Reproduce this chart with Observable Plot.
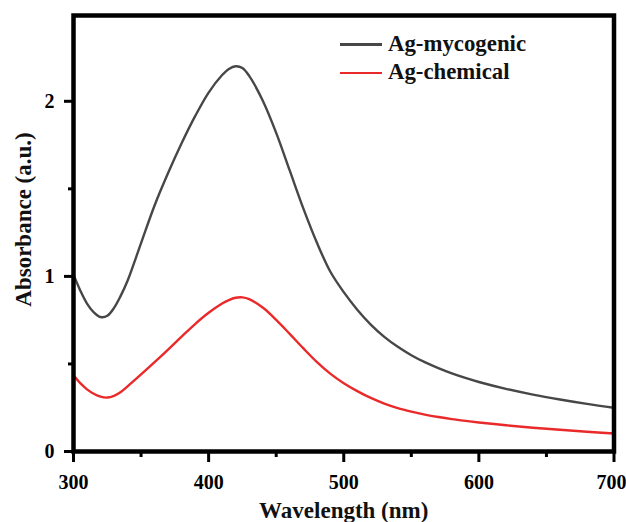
<!DOCTYPE html>
<html>
<head>
<meta charset="utf-8">
<script src="https://cdn.jsdelivr.net/npm/d3@7"></script>
<script src="https://cdn.jsdelivr.net/npm/@observablehq/plot@0.6"></script>
<style>
  html, body { margin: 0; padding: 0; background: #fff; }
  #wrap { position: relative; width: 626px; height: 522px; font-family: "Liberation Serif", "Times New Roman", serif; font-weight: bold; }
  .lg-line { position: absolute; height: 2.5px; width: 42px; left: 340px; }
  .lg-text { position: absolute; left: 388px; font-size: 22.8px; line-height: 1; color: #111; white-space: nowrap; }
</style>
</head>
<body>
<div id="wrap"></div>
<script>
// Wavelength samples (nm)
const wavelengths = [300,305,310,315,320,325,330,335,340,350,360,370,380,390,400,410,415,420,425,430,440,450,460,470,480,490,500,510,520,530,540,550,560,570,580,590,600,620,640,660,680,700];
// Ag-mycogenic absorbance
const mycogenic = [1.01,0.92,0.845,0.795,0.768,0.775,0.82,0.89,0.975,1.19,1.405,1.59,1.76,1.915,2.05,2.15,2.185,2.20,2.19,2.145,2.005,1.82,1.605,1.39,1.195,1.028,0.91,0.81,0.725,0.655,0.598,0.55,0.51,0.476,0.446,0.42,0.397,0.358,0.325,0.297,0.272,0.25];
// Ag-chemical absorbance
const chemical = [0.435,0.39,0.355,0.33,0.313,0.308,0.318,0.34,0.372,0.44,0.51,0.582,0.656,0.728,0.792,0.845,0.865,0.878,0.88,0.87,0.822,0.752,0.672,0.59,0.512,0.445,0.39,0.345,0.306,0.274,0.248,0.228,0.211,0.197,0.185,0.175,0.166,0.15,0.136,0.124,0.113,0.103];
const seriesNames = ["Ag-mycogenic", "Ag-chemical"];
const seriesColors = ["#474747", "#ea2a2a"];
const xTicks = [300, 400, 500, 600, 700];
const xMinorTicks = [350, 450, 550, 650];
const yTicks = [0, 1, 2];
const yMinorTicks = [0.5, 1.5];
const xTitle = "Wavelength (nm)";
const yTitle = "Absorbance (a.u.)";

const rows = [];
wavelengths.forEach((w, i) => {
  rows.push({series: seriesNames[0], x: w, y: mycogenic[i]});
  rows.push({series: seriesNames[1], x: w, y: chemical[i]});
});

const lastTick = xTicks[xTicks.length - 1];
const innerTicks = xTicks.slice(0, -1);

const chart = Plot.plot({
  width: 626,
  height: 522,
  marginLeft: 73,
  marginRight: 12.5,
  marginTop: 15,
  marginBottom: 71,
  style: {fontFamily: "'Liberation Serif', 'Times New Roman', serif", fontWeight: "bold", color: "black", background: "white", overflow: "visible"},
  x: {domain: [300, 700]},
  y: {domain: [0, 2.49]},
  color: {domain: seriesNames, range: seriesColors},
  marks: [
    Plot.line(rows, {x: "x", y: "y", z: "series", stroke: "series", strokeWidth: 2.4, curve: "catmull-rom"}),
    Plot.frame({stroke: "black", strokeWidth: 4.5}),
    // x major ticks
    Plot.axisX({ticks: xTicks, tickSize: 11, strokeWidth: 3, tickFormat: () => "", label: null}),
    // x minor ticks
    Plot.axisX({ticks: xMinorTicks, tickSize: 6, strokeWidth: 3, tickFormat: () => "", label: null}),
    // x tick labels
    Plot.axisX({ticks: innerTicks, tickSize: 0, tickPadding: 23, fontSize: 20, fontWeight: "bold", label: null, tickFormat: d => String(d)}),
    Plot.axisX({ticks: [lastTick], tickSize: 0, tickPadding: 23, dx: -2.5, fontSize: 20, fontWeight: "bold", label: null, tickFormat: d => String(d)}),
    // y axis
    Plot.axisY({ticks: yTicks, tickSize: 9, tickPadding: 10, strokeWidth: 3, fontSize: 20, fontWeight: "bold", label: null, tickFormat: d => String(d)}),
    Plot.axisY({ticks: yMinorTicks, tickSize: 5, strokeWidth: 3, tickFormat: () => "", label: null}),
    Plot.text([xTitle], {text: d => d, frameAnchor: "bottom", textAnchor: "middle", lineAnchor: "middle", dy: 59, fontSize: 23, fontWeight: "bold", fill: "#111"}),
    Plot.text([yTitle], {text: d => d, frameAnchor: "left", textAnchor: "middle", lineAnchor: "middle", rotate: -90, dx: -50, dy: -14, fontSize: 23, fontWeight: "bold", fill: "#111"})
  ]
});

const wrap = document.getElementById("wrap");
wrap.appendChild(chart);

// Legend (HTML overlay)
const legendTops = [43, 71.5];
const textTops = [32.7, 61];
seriesNames.forEach((name, i) => {
  const ln = document.createElement("div");
  ln.className = "lg-line";
  ln.style.top = legendTops[i] + "px";
  ln.style.background = seriesColors[i];
  wrap.appendChild(ln);
  const tx = document.createElement("div");
  tx.className = "lg-text";
  tx.style.top = textTops[i] + "px";
  tx.textContent = name;
  wrap.appendChild(tx);
});
</script>
</body>
</html>
